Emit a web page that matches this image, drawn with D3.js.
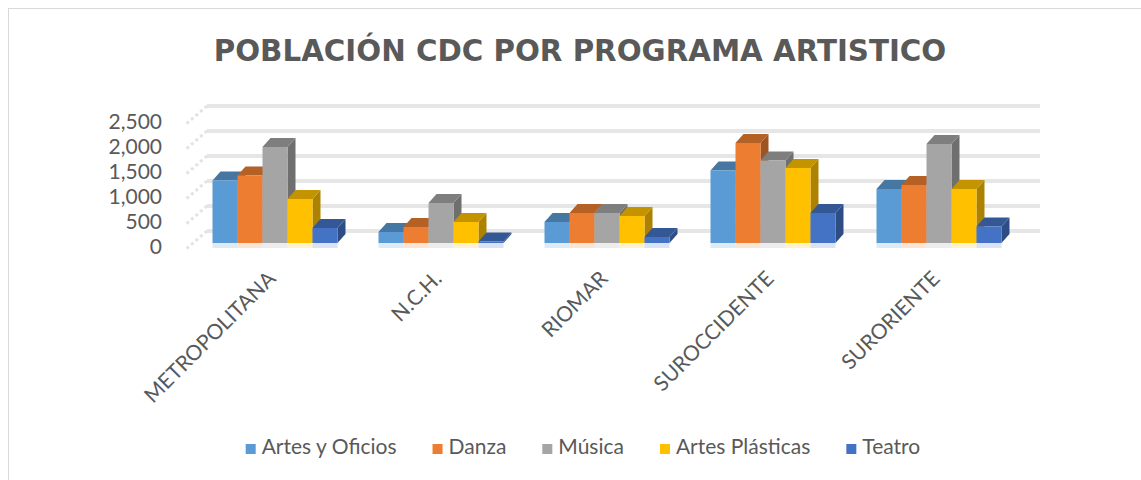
<!DOCTYPE html>
<html>
<head>
<meta charset="utf-8">
<script src="https://cdn.jsdelivr.net/npm/d3@7"></script>
<style>
  body { margin: 0; background: #fff; }
  text { fill: #595959; }
</style>
</head>
<body>
<svg id="chart"></svg>
<script>
// chart data
const categories = ["METROPOLITANA", "N.C.H.", "RIOMAR", "SUROCCIDENTE", "SURORIENTE"];
const seriesNames = ["Artes y Oficios", "Danza", "Música", "Artes Plásticas", "Teatro"];
const artesOficios = [1250, 220, 420, 1450, 1080];
const danza = [1350, 320, 600, 2000, 1160];
const musica = [1920, 800, 600, 1650, 1980];
const artesPlasticas = [880, 420, 540, 1500, 1080];
const teatro = [300, 30, 120, 600, 330];
const yTicks = [0, 500, 1000, 1500, 2000, 2500];
const colors = ["#5b9bd5", "#ed7d31", "#a5a5a5", "#ffc000", "#4472c4"];

const seriesValues = [artesOficios, danza, musica, artesPlasticas, teatro];

const width = 1141, height = 480;
const depthX = 8, depthY = 9;   // oblique 3d offset
const svg = d3.select("#chart").attr("width", width).attr("height", height);

// outer frame
svg.append("rect")
   .attr("x", 8.5).attr("y", 8.5)
   .attr("width", 1300).attr("height", 700)
   .attr("fill", "none")
   .attr("stroke", "#d9d9d9");

// title, sized to the width it has in the original
const title = svg.append("text")
   .attr("x", 580).attr("y", 61)
   .attr("text-anchor", "middle")
   .style("font-family", "'DejaVu Sans', sans-serif")
   .style("font-weight", "bold")
   .style("font-size", "30px")
   .text("POBLACIÓN CDC POR PROGRAMA ARTISTICO");
const tw = title.node().getComputedTextLength();
title.style("font-size", (30 * 733 / tw) + "px");

const x = d3.scaleBand()
            .domain(categories)
            .range([192, 1022])
            .paddingInner(0.247)
            .paddingOuter(0.1235);

const xInner = d3.scaleBand()
                 .domain(seriesNames)
                 .range([0, x.bandwidth()]);

const y = d3.scaleLinear()
            .domain([0, 2500])
            .range([243, 118]);

// back wall gridlines
const grid = svg.append("g").attr("class", "grid");
grid.selectAll("line.back")
    .data(yTicks)
    .enter().append("line")
    .attr("x1", 207)
    .attr("x2", 1040)
    .attr("y1", d => y(d) - 12)
    .attr("y2", d => y(d) - 12)
    .style("stroke", "#e6e6e6")
    .style("stroke-width", 4);

// side wall stubs
grid.selectAll("line.side")
    .data(yTicks)
    .enter().append("line")
    .attr("x1", 207)
    .attr("x2", 185)
    .attr("y1", d => y(d) - 12)
    .attr("y2", d => y(d) + 7)
    .style("stroke", "#e3e3e3")
    .style("stroke-width", 3)
    .style("stroke-dasharray", "3,3");

// y labels
svg.append("g")
   .selectAll("text")
   .data(yTicks)
   .enter().append("text")
   .attr("x", 162)
   .attr("y", d => y(d) + 6)
   .attr("text-anchor", "end")
   .attr("dominant-baseline", "middle")
   .style("font-family", "Lato, sans-serif")
   .style("font-size", "21px")
   .text(d => d3.format(",")(d));

// bars
const bars = svg.append("g").attr("class", "bars");
categories.forEach((cat, ci) => {
    seriesNames.forEach((s, si) => {
        const v = seriesValues[si][ci];
        const x0 = x(cat) + xInner(s);
        const w = xInner.bandwidth();
        const yt = y(v), yb = y(0);
        const c = d3.color(colors[si]);
        const g = bars.append("g");

        // faint reflection on the floor
        g.append("rect")
         .attr("x", x0).attr("y", yb)
         .attr("width", w).attr("height", 5)
         .attr("fill", colors[si])
         .attr("opacity", 0.2);

        g.append("polygon")
         .attr("points", [[x0 + w, yt], [x0 + w + depthX, yt - depthY],
                          [x0 + w + depthX, yb - depthY], [x0 + w, yb]].join(" "))
         .attr("fill", c.darker(1.1));

        g.append("polygon")
         .attr("points", [[x0, yt], [x0 + w, yt], [x0 + w + depthX, yt - depthY],
                          [x0 + depthX, yt - depthY]].join(" "))
         .attr("fill", c.darker(0.75));

        g.append("rect")
         .attr("x", x0).attr("y", yt)
         .attr("width", w).attr("height", yb - yt)
         .attr("fill", colors[si]);
    });
});

// category labels
svg.append("g")
   .selectAll("text")
   .data(categories)
   .enter().append("text")
   .attr("text-anchor", "end")
   .attr("transform", d => `translate(${x(d) + x.bandwidth() / 2 + 2},280) rotate(-45)`)
   .style("font-family", "Lato, sans-serif")
   .style("font-size", "21px")
   .text(d => d);

// legend
const legend = svg.append("g").attr("class", "legend");
const items = legend.selectAll("g")
   .data(seriesNames)
   .enter().append("g");
items.append("rect")
     .attr("width", 10).attr("height", 10)
     .attr("y", -5)
     .attr("fill", (d, i) => colors[i]);
items.append("text")
     .attr("x", 16)
     .attr("dominant-baseline", "middle")
     .style("font-family", "Lato, sans-serif")
     .style("font-size", "21px")
     .text(d => d);

let offsets = [], cur = 0;
items.each(function() {
    offsets.push(cur);
    cur += this.getBBox().width + 36;
});
const total = cur - 36;
items.attr("transform", (d, i) => `translate(${583 - total / 2 + offsets[i]},449)`);
</script>
</body>
</html>
